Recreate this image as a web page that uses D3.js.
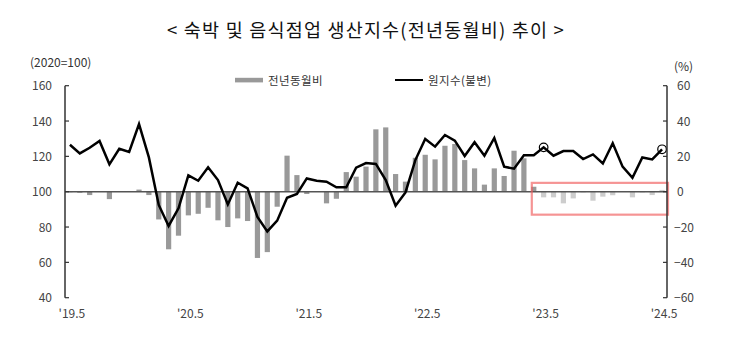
<!DOCTYPE html>
<html><head><meta charset="utf-8">
<script src="https://cdn.jsdelivr.net/npm/d3@7"></script>
<style>body{margin:0;background:#fff}svg{display:block}</style>
</head><body>
<svg id="c" width="733" height="364"></svg>
<script>
const months = ["19.5","19.6","19.7","19.8","19.9","19.10","19.11","19.12","20.1","20.2","20.3","20.4",
"20.5","20.6","20.7","20.8","20.9","20.10","20.11","20.12","21.1","21.2","21.3","21.4",
"21.5","21.6","21.7","21.8","21.9","21.10","21.11","21.12","22.1","22.2","22.3","22.4",
"22.5","22.6","22.7","22.8","22.9","22.10","22.11","22.12","23.1","23.2","23.3","23.4",
"23.5","23.6","23.7","23.8","23.9","23.10","23.11","23.12","24.1","24.2","24.3","24.4","24.5"];
const indexValues = [126.6,121.7,124.9,128.7,115.5,124.3,122.5,138.3,119.4,92.5,80.6,90.6,
109.2,106.2,113.8,106.6,92.8,105.1,101.9,85.7,77.5,83.6,96.6,98.7,
107.5,106.2,105.7,102.5,102.5,113.6,116.2,115.7,106.6,92.1,99.6,117.9,
129.8,125.5,132.1,128.9,120.2,128.0,120.4,130.4,114.2,113.0,120.6,120.6,
125.1,120.4,123.0,123.0,118.5,121.1,116.0,127.4,114.2,107.9,119.4,118.3,124.0];
const yoyValues = [-0.3,-0.6,-1.9,0,-4.2,0,0.4,1.2,-1.9,-15.7,-32.6,-24.9,
-13.4,-12.5,-9.1,-16.2,-20.0,-15.1,-16.6,-37.5,-34.2,-8.5,20.4,9.4,
-1.3,0,-6.6,-4.0,11.1,8.5,14.2,35.3,36.4,10.0,5.7,19.2,
20.9,18.3,26.0,27.0,17.9,13.2,4.0,13.2,8.9,23.2,18.9,2.8,
-3.2,-3.2,-6.6,-3.8,-0.4,-5.1,-2.8,-2.0,0.2,-3.2,-0.4,-1.9,1.0];
const xTickMonths = ["19.5","20.5","21.5","22.5","23.5","24.5"];
const leftTicks = [40,60,80,100,120,140,160];
const rightTicks = [-60,-40,-20,0,20,40,60];
const highlightStart = "23.5";
const circled = ["23.5","24.5"];

const svg = d3.select("#c");
const L = 65, R = 667, T = 85.7, B = 297.7;
const x = d3.scaleBand().domain(months).range([L, R]).padding(0);
const yL = d3.scaleLinear().domain([40,160]).range([B, T]);
const yR = d3.scaleLinear().domain([-60,60]).range([B, T]);
const bw = x.bandwidth();
const cx = m => x(m) + bw/2;
const font = "'Noto Sans CJK KR','Liberation Sans',sans-serif";
const hi = months.indexOf(highlightStart);

// title
svg.append("text").attr("x",366).attr("y",37).attr("text-anchor","middle")
  .attr("font-family",font).attr("font-size",18.5).attr("letter-spacing",1.2).attr("fill","#111")
  .text("< 숙박 및 음식점업 생산지수(전년동월비) 추이 >");
svg.append("text").attr("x",30).attr("y",67).attr("font-family",font).attr("font-size",12).attr("fill","#333").text("(2020=100)");
svg.append("text").attr("x",674).attr("y",71).attr("font-family",font).attr("font-size",12).attr("fill","#333").text("(%)");

// legend
svg.append("rect").attr("x",235).attr("y",77.8).attr("width",28).attr("height",4.6).attr("fill","#999");
svg.append("text").attr("x",268).attr("y",84.5).attr("font-family",font).attr("font-size",11.5).attr("letter-spacing",0.4).attr("fill","#333").text("전년동월비");
svg.append("line").attr("x1",395).attr("x2",423).attr("y1",80).attr("y2",80).attr("stroke","#000").attr("stroke-width",2);
svg.append("text").attr("x",428).attr("y",84.5).attr("font-family",font).attr("font-size",11.5).attr("letter-spacing",0.4).attr("fill","#333").text("원지수(불변)");

// bars
svg.append("g").selectAll("rect").data(months).join("rect")
  .attr("x", m => cx(m) - 2.6).attr("width", 5.2)
  .attr("y", (m,i) => yR(Math.max(0, yoyValues[i])))
  .attr("height", (m,i) => Math.abs(yR(yoyValues[i]) - yR(0)))
  .attr("fill", (m,i) => i >= hi ? "#cdcdcd" : "#999");

// zero line
svg.append("line").attr("x1",L).attr("x2",R).attr("y1",yL(100)).attr("y2",yL(100)).attr("stroke","#555").attr("stroke-width",1.5);

// highlight box
svg.append("rect").attr("x", x(months[hi-1]) + bw*0.3).attr("y", yR(5))
  .attr("width", R + 1 - (x(months[hi-1]) + bw*0.3)).attr("height", yR(-13) - yR(5))
  .attr("fill","none").attr("stroke","rgba(240,90,90,0.65)").attr("stroke-width",2.2);

// line
const line = d3.line().x(m => cx(m)).y((m,i) => yL(indexValues[i]));
svg.append("path").datum(months).attr("d", line).attr("fill","none").attr("stroke","#000").attr("stroke-width",2.5).attr("stroke-linejoin","miter");

svg.append("g").selectAll("circle").data(circled).join("circle")
  .attr("cx", m => cx(m)).attr("cy", m => yL(indexValues[months.indexOf(m)])).attr("r",4.3)
  .attr("fill","none").attr("stroke","#000").attr("stroke-width",1.2);

// axes
const ga = svg.append("g");
ga.append("line").attr("x1",L).attr("x2",L).attr("y1",T).attr("y2",B).attr("stroke","#333").attr("stroke-width",1.5);
ga.append("line").attr("x1",R).attr("x2",R).attr("y1",T).attr("y2",B).attr("stroke","#333").attr("stroke-width",1.5);
ga.selectAll(".lt").data(leftTicks).join("line").attr("x1",L).attr("x2",L+4).attr("y1",d=>yL(d)).attr("y2",d=>yL(d)).attr("stroke","#333").attr("stroke-width",1.2);
ga.selectAll(".rt").data(rightTicks).join("line").attr("x1",R-4).attr("x2",R).attr("y1",d=>yR(d)).attr("y2",d=>yR(d)).attr("stroke","#333").attr("stroke-width",1.2);
ga.selectAll(".ll").data(leftTicks).join("text").attr("x",52).attr("y",d=>yL(d)+4.5).attr("text-anchor","end")
  .attr("font-family",font).attr("font-size",12).attr("fill","#444").text(d=>d);
ga.selectAll(".rl").data(rightTicks).join("text").attr("x",d=> d<0 ? 674 : 677).attr("y",d=>yR(d)+4.5)
  .attr("font-family",font).attr("font-size",12).attr("fill","#444").text(d=> d<0 ? "−"+Math.abs(d) : d);
ga.selectAll(".xl").data(xTickMonths).join("text").attr("x",m=>cx(m)+2).attr("y",318).attr("text-anchor","middle")
  .attr("font-family",font).attr("font-size",12).attr("fill","#444").text(m=>"'"+m);
</script>
</body></html>
